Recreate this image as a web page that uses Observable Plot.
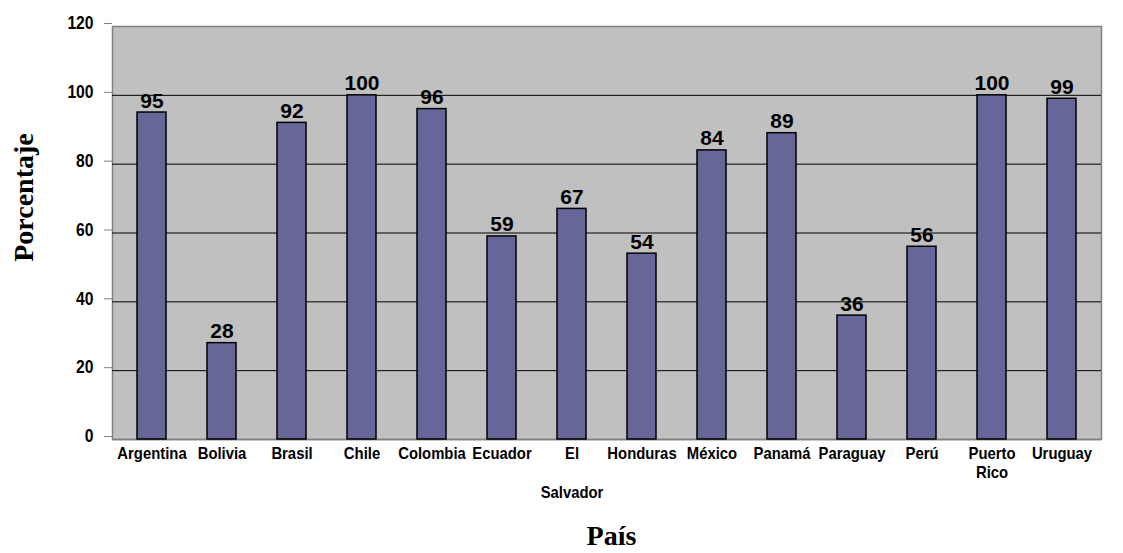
<!DOCTYPE html>
<html>
<head>
<meta charset="utf-8">
<script src="https://cdn.jsdelivr.net/npm/d3@7"></script>
<script src="https://cdn.jsdelivr.net/npm/@observablehq/plot@0.6"></script>
<style>
  html, body { margin: 0; padding: 0; background: #fff; }
  #chart svg { display: block; }
</style>
</head>
<body>
<div id="chart"></div>
<script>
const categories = ["Argentina", "Bolivia", "Brasil", "Chile", "Colombia", "Ecuador", "El Salvador", "Honduras", "México", "Panamá", "Paraguay", "Perú", "Puerto Rico", "Uruguay"];
const values = [95, 28, 92, 100, 96, 59, 67, 54, 84, 89, 36, 56, 100, 99];
const tickLabels = ["Argentina", "Bolivia", "Brasil", "Chile", "Colombia", "Ecuador", "El\n\nSalvador", "Honduras", "México", "Panamá", "Paraguay", "Perú", "Puerto\nRico", "Uruguay"];
const yTicks = [0, 20, 40, 60, 80, 100, 120];
const gridValues = [20, 40, 60, 80, 100];
const yTitle = "Porcentaje";
const xTitle = "País";

const data = categories.map((c, i) => ({pais: c, valor: values[i]}));
const labelOf = new Map(categories.map((c, i) => [c, tickLabels[i]]));

const sans = "'Liberation Sans', Arial, sans-serif";
const serif = "'Liberation Serif', 'Times New Roman', serif";

const chart = Plot.plot({
  width: 1123,
  height: 553,
  marginLeft: 112,
  marginRight: 22,
  marginTop: 26,
  marginBottom: 114,
  style: {background: "#fff", fontFamily: sans, color: "#000"},
  x: {domain: categories, paddingInner: 0.59, paddingOuter: 0.295, label: null},
  y: {domain: [0, 120], label: null},
  marks: [
    Plot.frame({fill: "#c0c0c0", stroke: "#808080", strokeWidth: 1.5}),
    Plot.ruleY(gridValues, {stroke: "#000", strokeWidth: 1}),
    Plot.ruleY([0], {stroke: "#808080", strokeWidth: 1.5}),
    Plot.barY(data, {x: "pais", y: "valor", fill: "#666699", stroke: "#000", strokeWidth: 1.5}),
    Plot.text(data, {x: "pais", y: "valor", text: d => String(d.valor), lineAnchor: "bottom", dy: -5, fontSize: 21, fontWeight: "bold", fill: "#000", ariaLabel: "value label"}),
    Plot.axisY({ticks: yTicks, tickSize: 8, tickPadding: 11, stroke: "#808080", fontSize: 18, fontWeight: "bold", dy: -3, tickFormat: d => String(d)}),
    Plot.axisX({tickSize: 0, tickPadding: 5, fontSize: 16.5, fontWeight: "bold", lineHeight: 1.2, tickFormat: d => labelOf.get(d)}),
    Plot.text([yTitle], {frameAnchor: "left", textAnchor: "middle", lineAnchor: "middle", rotate: -90, dx: -88.5, dy: -35.5, fontFamily: serif, fontSize: 28, fontWeight: "bold", fill: "#000"}),
    Plot.text([xTitle], {frameAnchor: "bottom", textAnchor: "middle", lineAnchor: "bottom", dx: 4.5, dy: 105, fontFamily: serif, fontSize: 28, fontWeight: "bold", fill: "#000"})
  ]
});

// Condense the sans-serif labels horizontally, as in the reference's narrow bold face.
const condense = {"value label": 0.85, "y-axis tick label": 0.87, "x-axis tick label": 0.9};
for (const [name, s] of Object.entries(condense)) {
  d3.select(chart).selectAll(`g[aria-label="${name}"] text`).each(function() {
    const t = d3.select(this);
    const tr = t.attr("transform");
    if (tr) {
      t.attr("transform", `${tr} scale(${s},1)`);
    } else {
      const x = +t.attr("x") || 0, y = +t.attr("y") || 0;
      t.attr("x", null).attr("y", null).attr("transform", `translate(${x},${y}) scale(${s},1)`);
    }
  });
}

document.getElementById("chart").appendChild(chart);
</script>
</body>
</html>
